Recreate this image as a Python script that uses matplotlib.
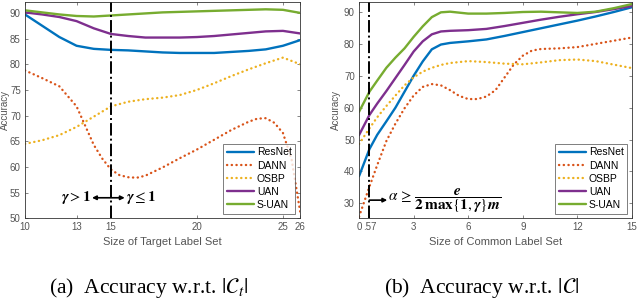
import matplotlib
matplotlib.use('Agg')
import matplotlib.pyplot as plt

# colours (MATLAB default order)
COLORS = {
    'ResNet': '#0072BD',
    'DANN': '#D95319',
    'OSBP': '#EDB120',
    'UAN': '#7E2F8E',
    'S-UAN': '#77AC30',
}
DOTTED = (0, (0.1, 1.9))
STYLES = {'ResNet': '-', 'DANN': DOTTED, 'OSBP': DOTTED, 'UAN': '-', 'S-UAN': '-'}
METHODS = ['ResNet', 'DANN', 'OSBP', 'UAN', 'S-UAN']

# (a) accuracy vs size of target label set
target_x = [10, 11, 12, 13, 14, 15, 16, 17, 18, 19, 20, 21, 22, 23, 24, 25, 26]
target_resnet = [89.7, 87.5, 85.3, 83.6, 83.0, 82.8, 82.7, 82.5, 82.3, 82.2, 82.2, 82.2, 82.4, 82.6, 82.9, 83.6, 84.7]
target_uan = [90.1, 89.7, 89.2, 88.4, 87.0, 85.9, 85.5, 85.2, 85.2, 85.2, 85.3, 85.5, 85.8, 86.1, 86.4, 86.5, 86.0]
target_suan = [90.5, 90.1, 89.7, 89.4, 89.3, 89.5, 89.7, 89.9, 90.1, 90.2, 90.3, 90.4, 90.5, 90.6, 90.7, 90.6, 90.0]
target_osbp = [64.5, 65.2, 66.2, 67.8, 69.8, 71.8, 72.7, 73.2, 73.5, 74.0, 75.0, 76.3, 77.7, 79.0, 80.2, 81.3, 80.0]
target_dann_x = [10, 11, 12, 13, 14, 14.5, 15, 15.5, 16, 16.5, 17, 18, 19, 20, 21, 22, 23, 23.5, 24, 24.5, 25, 25.5, 26]
target_dann = [78.8, 77.3, 75.7, 71.8, 64.3, 61.6, 59.5, 58.4, 58.0, 57.9, 58.3, 59.9, 61.7, 63.4, 65.3, 67.2, 68.8, 69.4, 69.5, 68.6, 66.6, 61.5, 51.3]
target_ticks = [10, 13, 15, 20, 25, 26]

# (b) accuracy vs size of common label set
common_x = [0, 0.57, 1, 1.5, 2, 2.5, 3, 3.5, 4, 4.5, 5, 6, 7, 8, 9, 10, 11, 12, 13, 14, 15]
common_resnet = [38.5, 47.0, 51.5, 55.7, 60.0, 65.0, 70.0, 74.5, 78.3, 79.8, 80.3, 80.8, 81.4, 82.5, 83.7, 84.9, 86.1, 87.3, 88.6, 90.0, 91.5]
common_uan = [51.4, 57.7, 61.3, 65.2, 69.3, 73.4, 77.6, 80.8, 83.0, 83.9, 84.1, 84.3, 84.7, 85.6, 86.6, 87.6, 88.5, 89.3, 90.0, 90.9, 91.9]
common_suan = [58.7, 65.0, 68.5, 72.5, 75.7, 78.6, 82.2, 85.5, 88.4, 89.9, 90.1, 89.5, 89.5, 89.7, 90.0, 90.1, 89.9, 89.7, 90.1, 91.2, 92.5]
common_osbp = [48.6, 53.5, 57.0, 60.5, 63.8, 67.0, 69.5, 71.3, 72.5, 73.4, 74.0, 74.6, 74.3, 73.8, 73.6, 74.2, 74.9, 75.1, 74.6, 73.5, 72.4]
common_dann_x = [0, 0.57, 1, 1.5, 2, 2.5, 3, 3.5, 4, 4.5, 5, 5.5, 6, 6.5, 7, 7.5, 8, 8.5, 9, 9.5, 10, 11, 12, 13, 14, 15]
common_dann = [25.8, 35.2, 42.0, 49.5, 55.0, 59.8, 63.8, 66.5, 67.4, 67.0, 65.5, 63.7, 62.7, 62.7, 63.5, 65.5, 69.5, 73.5, 76.3, 77.9, 78.4, 78.6, 79.0, 80.0, 81.0, 82.0]
common_ticks = [0, 0.57, 3, 6, 9, 12, 15]
common_ticklabels = ['0', '.57', '3', '6', '9', '12', '15']

plt.rcParams['font.family'] = ['Liberation Sans', 'DejaVu Sans']
plt.rcParams['mathtext.fontset'] = 'stix'

fig = plt.figure(figsize=(6.4, 3.03), dpi=100)
ax1 = fig.add_axes([0.039, 0.2795, 0.430, 0.7135])
ax2 = fig.add_axes([0.561, 0.2795, 0.4265, 0.7135])

GRAY = '#555555'


def style_axes(ax, label_x):
    for s in ax.spines.values():
        s.set_color('#333333')
        s.set_linewidth(0.6)
    ax.tick_params(labelsize=7, colors=GRAY, length=2.5, width=0.5, direction='in',
                   top=True, right=True, pad=3)
    ax.set_ylabel('Accuracy', fontsize=7, color=GRAY)
    ax.yaxis.set_label_coords(label_x, 0.5)


def plot_series(ax, xs, ys, name):
    ax.plot(xs, ys, linestyle=STYLES[name], color=COLORS[name], linewidth=1.7, label=name,
            dash_capstyle='round', solid_capstyle='round')


def add_legend(ax):
    leg = ax.legend(loc='lower right', fontsize=7.5, handlelength=2.6, handletextpad=0.3,
                    labelspacing=0.3, borderpad=0.35, borderaxespad=0.45, fancybox=False)
    leg.get_frame().set_edgecolor('#444444')
    leg.get_frame().set_linewidth(0.6)


# panel (a)
series_a = {
    'ResNet': (target_x, target_resnet),
    'DANN': (target_dann_x, target_dann),
    'OSBP': (target_x, target_osbp),
    'UAN': (target_x, target_uan),
    'S-UAN': (target_x, target_suan),
}
for name in METHODS:
    plot_series(ax1, *series_a[name], name)
ax1.axvline(15, color='black', linestyle='-.', linewidth=1.4)
ax1.set_xlim(10, 26)
ax1.set_ylim(50, 92.1)
ax1.set_xticks(target_ticks)
ax1.set_yticks(range(50, 91, 5))
ax1.set_xlabel('Size of Target Label Set', fontsize=8, color=GRAY, labelpad=3)
style_axes(ax1, -0.055)
add_legend(ax1)
ax1.annotate('', xy=(13.9, 54), xytext=(15.8, 54),
             arrowprops=dict(arrowstyle='<|-|>', color='black', lw=1.2,
                             mutation_scale=6, shrinkA=0, shrinkB=0))
ax1.text(13.85, 54, r'$\mathbfit{\gamma} > \mathbf{1}$', fontsize=11, ha='right', va='center')
ax1.text(15.85, 54, r'$\mathbfit{\gamma} \leq \mathbf{1}$', fontsize=11, ha='left', va='center')

# panel (b)
series_b = {
    'ResNet': (common_x, common_resnet),
    'DANN': (common_dann_x, common_dann),
    'OSBP': (common_x, common_osbp),
    'UAN': (common_x, common_uan),
    'S-UAN': (common_x, common_suan),
}
for name in METHODS:
    plot_series(ax2, *series_b[name], name)
ax2.axvline(0.57, color='black', linestyle='-.', linewidth=1.4)
ax2.set_xlim(0, 15)
ax2.set_ylim(25.3, 93.1)
ax2.set_xticks(common_ticks)
ax2.set_xticklabels(common_ticklabels)
ax2.set_yticks(range(30, 91, 10))
ax2.set_xlabel('Size of Common Label Set', fontsize=8, color=GRAY, labelpad=3)
style_axes(ax2, -0.065)
add_legend(ax2)
ax2.annotate('', xy=(1.55, 31), xytext=(0.57, 31),
             arrowprops=dict(arrowstyle='-|>', color='black', lw=1.2,
                             mutation_scale=6, shrinkA=0, shrinkB=0))
ax2.text(1.6, 31,
         r'$\alpha\, \geq\, \dfrac{\mathbfit{e}}{\mathbf{2}\,\mathbf{max}\{\mathbf{1},\mathbfit{\gamma}\}\mathbfit{m}}$',
         fontsize=11, ha='left', va='center')

# captions
fig.text(0.232, 0.05, r'(a)  Accuracy w.r.t. $|\mathcal{C}_t|$', fontsize=15.5,
         family=['Liberation Serif', 'DejaVu Serif'], ha='center', va='center')
fig.text(0.753, 0.05, r'(b)  Accuracy w.r.t. $|\mathcal{C}|$', fontsize=15.5,
         family=['Liberation Serif', 'DejaVu Serif'], ha='center', va='center')

fig.savefig('out.png', dpi=100)
